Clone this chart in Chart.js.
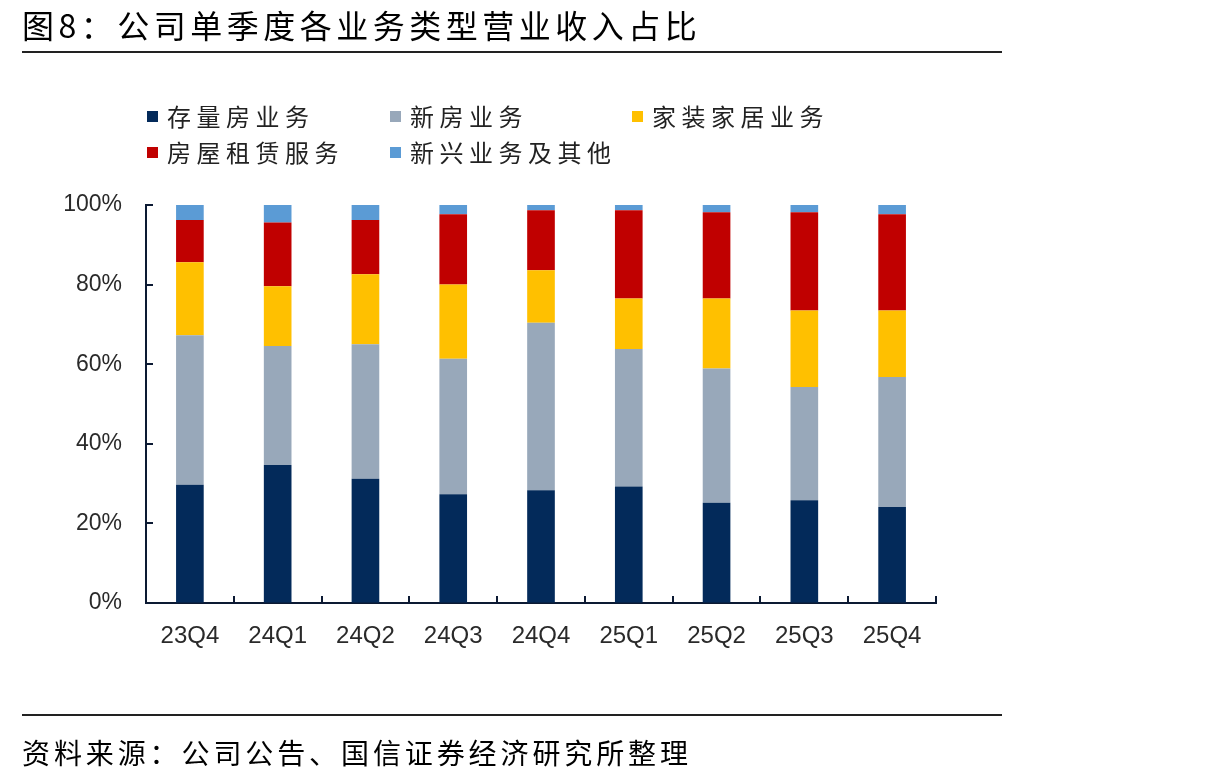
<!DOCTYPE html>
<html>
<head>
<meta charset="utf-8">
<script src="https://cdn.jsdelivr.net/npm/chart.js@4.4.1/dist/chart.umd.min.js"></script>
<style>
  html, body { margin: 0; padding: 0; background: #fff; }
  #page { position: relative; width: 1217px; height: 783px; overflow: hidden; font-family: "Noto Sans CJK SC", sans-serif; }
  #chart { position: absolute; left: 0; top: 0; }
  .title { position: absolute; left: 22px; top: 3px; font-size: 32px; letter-spacing: 4.5px; color: #000; white-space: nowrap; line-height: 42px; }
  .rule { position: absolute; left: 22px; width: 980px; height: 2px; background: #222; }
  .source { position: absolute; left: 22px; top: 732px; font-size: 28px; letter-spacing: 3.9px; color: #000; white-space: nowrap; line-height: 40px; }
  #legend { position: absolute; left: 0; top: 0; }
  .lg-item { position: absolute; display: flex; align-items: center; font-size: 24px; letter-spacing: 5.5px; color: #222; white-space: nowrap; line-height: 30px; }
  .lg-box { width: 11px; height: 11px; margin-right: 9px; }
</style>
</head>
<body>
<div id="page">
  <canvas id="chart" width="1217" height="783"></canvas>
  <div class="title">图8：公司单季度各业务类型营业收入占比</div>
  <div class="rule" style="top:51px"></div>
  <div id="legend"></div>
  <div class="rule" style="top:714px"></div>
  <div class="source">资料来源：公司公告、国信证券经济研究所整理</div>
</div>
<script>
// quarters on the x axis
const quarters = ['23Q4', '24Q1', '24Q2', '24Q3', '24Q4', '25Q1', '25Q2', '25Q3', '25Q4'];

// revenue share by business line, %
const existingHomes = [29.7, 34.7, 31.2, 27.3, 28.3, 29.3, 25.2, 25.8, 24.1];
const newHomes      = [37.6, 29.9, 33.8, 34.1, 42.1, 34.5, 33.7, 28.5, 32.7];
const homeFurnish   = [18.3, 15.0, 17.6, 18.6, 13.2, 12.7, 17.6, 19.2, 16.7];
const rentalSvc     = [10.6, 16.0, 13.6, 17.7, 15.1, 22.2, 21.7, 24.7, 24.2];
const emergingOther = [ 3.8,  4.4,  3.8,  2.3,  1.3,  1.3,  1.8,  1.8,  2.3];

const yTicks = [0, 20, 40, 60, 80, 100];

const seriesNames  = ['存量房业务', '新房业务', '家装家居业务', '房屋租赁服务', '新兴业务及其他'];
const seriesColors = ['#032a5a', '#98a8ba', '#ffc000', '#c00000', '#5b9bd5'];
const seriesData   = [existingHomes, newHomes, homeFurnish, rentalSvc, emergingOther];

const AXIS_COLOR = '#0c1a33';
const FONT_FAMILY = '"Liberation Sans", Arial, sans-serif';

// inward tick marks, like the original
const innerTicks = {
  id: 'innerTicks',
  afterDraw(chart) {
    const { ctx, chartArea, scales } = chart;
    const x = scales.x, y = scales.y;
    ctx.save();
    ctx.strokeStyle = AXIS_COLOR;
    ctx.lineWidth = 2;
    ctx.beginPath();
    y.ticks.forEach((t, i) => {
      const py = Math.round(y.getPixelForTick(i));
      ctx.moveTo(chartArea.left, py);
      ctx.lineTo(chartArea.left + 7, py);
    });
    for (let i = 0; i < quarters.length; i++) {
      const px = Math.round(x.getPixelForValue(i + 0.5));
      ctx.moveTo(px, chartArea.bottom);
      ctx.lineTo(px, chartArea.bottom - 7);
    }
    ctx.stroke();
    ctx.restore();
  }
};

function buildLegend() {
  const spots = [[147, 101], [390, 101], [632, 101], [147, 137], [390, 137]];
  const el = document.getElementById('legend');
  el.innerHTML = seriesNames.map((name, i) =>
    `<div class="lg-item" style="left:${spots[i][0]}px;top:${spots[i][1]}px">` +
    `<span class="lg-box" style="background:${seriesColors[i]}"></span>${name}</div>`
  ).join('');
}

buildLegend();

new Chart(document.getElementById('chart').getContext('2d'), {
  type: 'bar',
  data: {
    labels: quarters,
    datasets: seriesNames.map((name, i) => ({
      label: name,
      data: seriesData[i],
      backgroundColor: seriesColors[i],
      borderWidth: 0,
      categoryPercentage: 1,
      barPercentage: 0.315
    }))
  },
  options: {
    responsive: false,
    animation: false,
    layout: { padding: { left: 46, right: 281, top: 205, bottom: 120 } },
    plugins: { legend: { display: false }, tooltip: { enabled: false } },
    scales: {
      x: {
        stacked: true,
        afterFit: s => { s.height = 60; },
        grid: { drawOnChartArea: false, drawTicks: false },
        border: { display: true, color: AXIS_COLOR, width: 2 },
        ticks: { color: '#2a2a2a', font: { family: FONT_FAMILY, size: 24 }, padding: 19, maxRotation: 0 }
      },
      y: {
        stacked: true,
        min: 0,
        max: 100,
        afterFit: s => { s.width = 100; },
        afterBuildTicks: s => { s.ticks = yTicks.map(v => ({ value: v })); },
        grid: { drawOnChartArea: false, drawTicks: false },
        border: { display: true, color: AXIS_COLOR, width: 2 },
        ticks: { color: '#2a2a2a', font: { family: FONT_FAMILY, size: 23 }, padding: 24, callback: v => v + '%' }
      }
    }
  },
  plugins: [innerTicks]
});
</script>
</body>
</html>
